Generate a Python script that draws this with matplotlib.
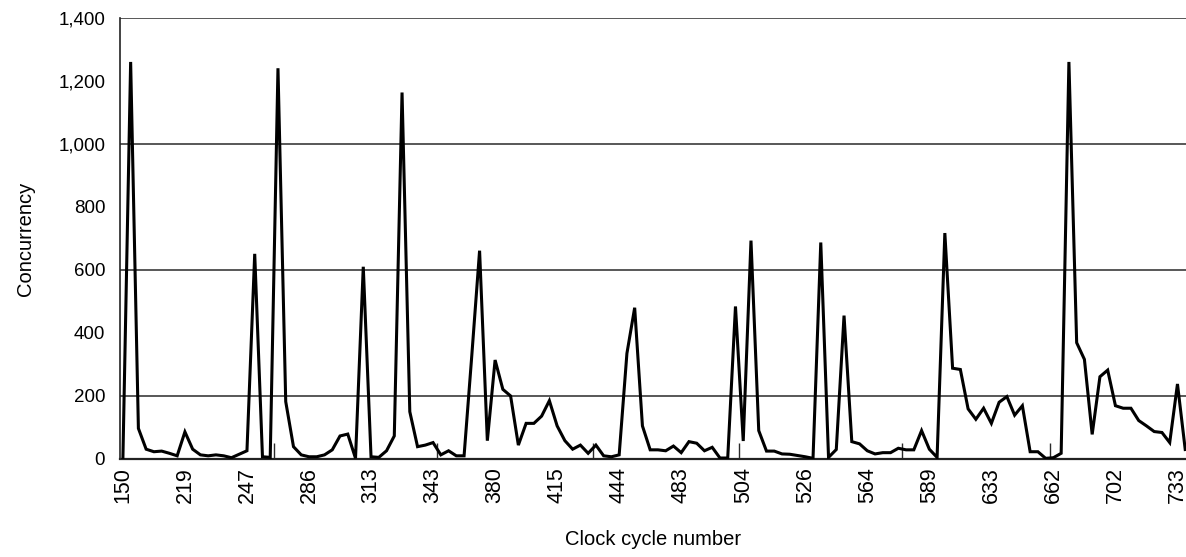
import numpy as np
import matplotlib
matplotlib.use("Agg")
import matplotlib.pyplot as plt
from matplotlib.ticker import FuncFormatter

plt.rcParams['font.family'] = ['Liberation Sans', 'DejaVu Sans']

concurrency = [
    0, 1260, 97, 31, 23, 25, 18, 10, 86, 31,
    13, 10, 13, 10, 4, 15, 26, 651, 7, 5,
    1240, 182, 39, 13, 7, 7, 13, 29, 73, 79,
    2, 610, 7, 5, 26, 73, 1163, 150, 39, 44,
    52, 13, 26, 10, 10, 330, 661, 58, 314, 221,
    200, 44, 113, 113, 136, 185, 105, 58, 31, 44,
    18, 44, 10, 7, 13, 335, 480, 105, 29, 29,
    26, 41, 20, 55, 50, 26, 37, 3, 3, 484,
    57, 693, 90, 25, 25, 16, 15, 11, 7, 2,
    687, 5, 30, 455, 55, 48, 26, 16, 20, 20,
    34, 29, 29, 90, 31, 5, 717, 288, 284, 159,
    126, 161, 113, 180, 198, 139, 169, 23, 23, 2,
    4, 18, 1260, 369, 316, 78, 261, 282, 169, 161,
    161, 122, 105, 87, 84, 52, 238, 30,
]

# clock cycle labels shown on the axis (every 8th sample)
tick_labels = ["150", "219", "247", "286", "313", "343", "380", "415", "444",
               "483", "504", "526", "564", "589", "633", "662", "702", "733"]
label_step = 8

# y grid lines and the short stubs between them
grid_values = [200, 600, 1000, 1400]
stub_values = [400, 800, 1200]
# small vertical stubs on the category axis
x_stubs = [19.5, 40.5, 60.6, 79.5, 100.5, 119.5]

x = np.arange(len(concurrency))

fig = plt.figure(figsize=(11.86, 5.57), dpi=100)
ax = fig.add_axes([0.101, 0.176, 0.899, 0.792])

for g in grid_values:
    ax.axhline(g, color="#2a2a2a", lw=1.1, zorder=1)

ax.plot(x, concurrency, color="black", lw=2.2, zorder=3, solid_joinstyle="miter")

ax.set_xlim(-0.4, 137.1)
ax.set_ylim(0, 1400)

ax.set_yticks([0, 200, 400, 600, 800, 1000, 1200, 1400])
ax.yaxis.set_major_formatter(FuncFormatter(lambda v, p: f"{int(v):,}"))
ax.tick_params(axis="y", length=0, labelsize=13.5, pad=10.5)

ax.set_yticks(stub_values, minor=True)
ax.tick_params(axis="y", which="minor", direction="in", length=11, width=1.0, color="#2a2a2a")

ax.set_xticks(x[::label_step])
ax.set_xticklabels(tick_labels, rotation=90)
ax.tick_params(axis="x", length=0, labelsize=15.5, pad=6)
ax.set_xticks(x_stubs, minor=True)
ax.tick_params(axis="x", which="minor", direction="in", length=11.5, width=1.0, color="#2a2a2a")

for s in ["top", "right"]:
    ax.spines[s].set_visible(False)
ax.spines["left"].set_linewidth(1.2)
ax.spines["bottom"].set_linewidth(1.6)
ax.spines["left"].set_color("#222222")
ax.spines["bottom"].set_color("#222222")

ax.set_ylabel("Concurrency", fontsize=14.5, labelpad=17)
ax.set_xlabel("Clock cycle number", fontsize=14.5, labelpad=19)

fig.savefig("out.png", dpi=100)
